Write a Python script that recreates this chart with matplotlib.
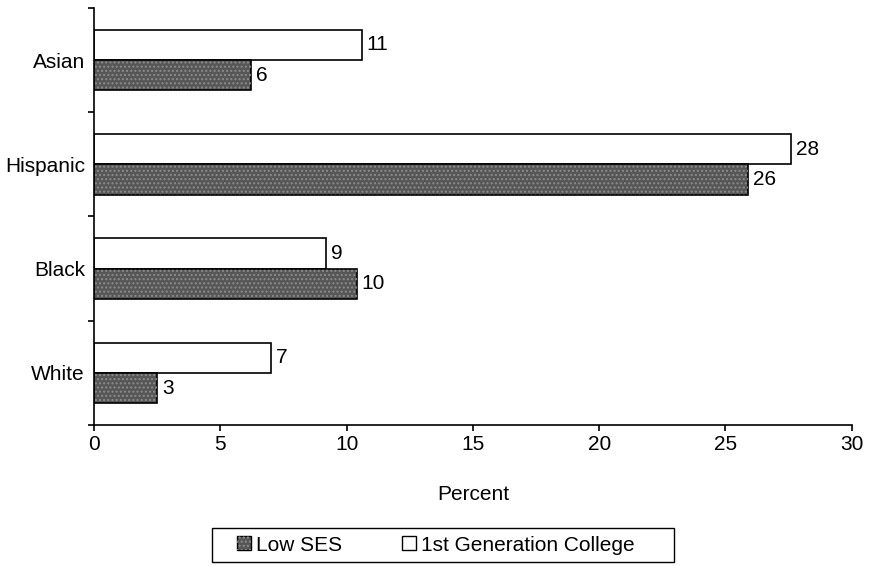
import numpy as np
import matplotlib
matplotlib.use("Agg")
import matplotlib.pyplot as plt
from matplotlib.patches import Patch, Rectangle

# categories bottom to top
groups = ["White", "Black", "Hispanic", "Asian"]
lowSES = [2.5, 10.4, 25.9, 6.2]
firstGen = [7.0, 9.2, 27.6, 10.6]
lowSESLabels = ["3", "10", "26", "6"]
firstGenLabels = ["7", "9", "28", "11"]
xTicks = [0, 5, 10, 15, 20, 25, 30]

plt.rcParams['font.family'] = ['Liberation Sans', 'DejaVu Sans']
plt.rcParams['hatch.linewidth'] = 1.0
fontSize = 15

W, H = 879, 566
fig = plt.figure(figsize=(W / 100, H / 100), dpi=100)
ax = fig.add_axes([0.107, 0.249, 0.862, 0.737])

pos = np.arange(len(groups))
barH = 0.29
grey = '#565656'
speck = '#8c8c8c'

ax.barh(pos + barH / 2, firstGen, height=barH, color='white', edgecolor='black', linewidth=1.2)
ax.barh(pos - barH / 2, lowSES, height=barH, color=grey, edgecolor='black', linewidth=1.2)
# speckled texture on top of the grey bars
ax.barh(pos - barH / 2, lowSES, height=barH, color='none', edgecolor=speck, linewidth=0, hatch='....')

for i in range(len(groups)):
    ax.text(firstGen[i] + 0.2, pos[i] + barH / 2, firstGenLabels[i], va='center', ha='left', fontsize=fontSize)
    ax.text(lowSES[i] + 0.2, pos[i] - barH / 2, lowSESLabels[i], va='center', ha='left', fontsize=fontSize)

ax.set_xlim(0, 30)
ax.set_ylim(-0.5, len(groups) - 0.5)
ax.set_xticks(xTicks)
ax.set_xticklabels([str(t) for t in xTicks], fontsize=fontSize)
ax.set_yticks(pos)
ax.set_yticklabels(groups, fontsize=fontSize)
ax.set_yticks(np.arange(len(groups) + 1) - 0.5, minor=True)
ax.tick_params(axis='y', which='major', length=0, pad=6.5)
ax.tick_params(axis='y', which='minor', length=4.5, width=1.2)
ax.tick_params(axis='x', length=4.5, width=1.2, pad=3)

ax.spines['top'].set_visible(False)
ax.spines['right'].set_visible(False)
ax.spines['left'].set_linewidth(1.2)
ax.spines['bottom'].set_linewidth(1.2)

ax.set_xlabel("Percent", fontsize=fontSize, labelpad=22)

handles = [(Patch(facecolor=grey, edgecolor='black'),
            Patch(facecolor='none', edgecolor=speck, linewidth=0, hatch='....')),
           Patch(facecolor='white', edgecolor='black')]
labels = ['Low SES', '1st Generation College']
leg = fig.legend(handles, labels, loc='center', bbox_to_anchor=(0.496, 0.037), ncol=2,
                 fontsize=fontSize, frameon=False,
                 handlelength=0.65, handleheight=0.65, handletextpad=0.25, columnspacing=2.9)

# legend frame box
fig.patches.append(Rectangle((212 / W, (H - 562) / H), (674 - 212) / W, 34 / H,
                             transform=fig.transFigure, fill=False, edgecolor='black', linewidth=1.0))

fig.savefig("out.png", dpi=100)
